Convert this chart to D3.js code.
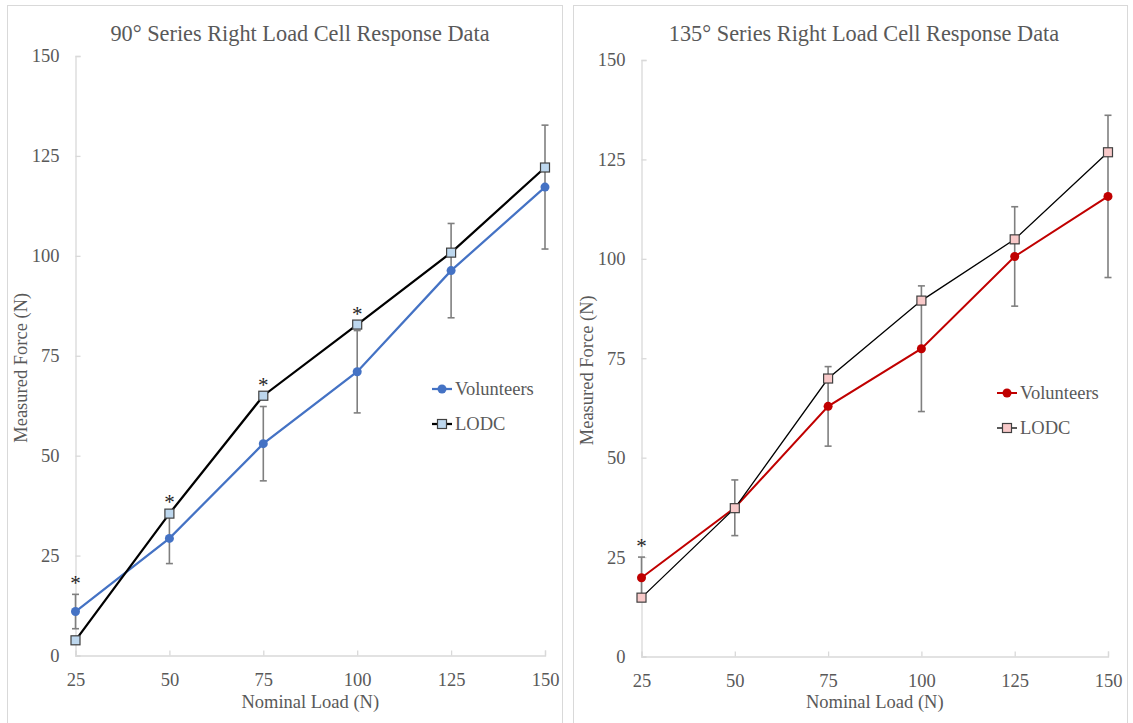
<!DOCTYPE html>
<html>
<head>
<meta charset="utf-8">
<script src="https://cdn.jsdelivr.net/npm/d3@7"></script>
<style>
  body { margin: 0; background: #fff; }
  text { font-family: "Liberation Serif", "Times New Roman", serif; fill: #595959; }
</style>
</head>
<body>
<div id="chart"></div>
<script>
// nominal loads (x categories) and y ticks
var loads = [25, 50, 75, 100, 125, 150];
var yTicks = [0, 25, 50, 75, 100, 125, 150];

// 90 degree series
var vol90 = [11, 29.3, 53, 71, 96.3, 117.2];
var vol90Err = [4.3, 6.3, 9.3, 10.3, 11.8, 15.5];
var lodc90 = [3.8, 35.5, 65, 82.8, 100.8, 122.1];
var sig90 = [25, 50, 75, 100];

// 135 degree series
var vol135 = [19.8, 37.4, 62.9, 77.4, 100.6, 115.7];
var vol135Err = [5.2, 7, 10, 15.8, 12.5, 20.4];
var lodc135 = [14.8, 37.3, 69.9, 89.5, 104.9, 126.8];
var sig135 = [25];

var width = 1133, height = 723;

var svg = d3.select("#chart").append("svg")
  .attr("width", width)
  .attr("height", height);

svg.append("rect").attr("width", width).attr("height", height).attr("fill", "#fff");

function drawPanel(p) {
  var g = svg.append("g");

  // panel border
  g.append("rect")
    .attr("x", p.box[0] + 0.5).attr("y", 5.5)
    .attr("width", p.box[1] - p.box[0]).attr("height", 740)
    .attr("fill", "none").attr("stroke", "#d9d9d9");

  var x = d3.scaleLinear().domain([25, 150]).range([p.left, p.right]);
  var y = d3.scaleLinear().domain([0, 150]).range([p.bottom, p.top]);

  // axes
  var xAxis = d3.axisBottom(x).tickValues(loads).tickSize(-5).tickPadding(17).tickFormat(d3.format("d"));
  var yAxis = d3.axisLeft(y).tickValues(yTicks).tickSize(-5).tickPadding(16).tickFormat(d3.format("d"));

  var gx = g.append("g").attr("transform", "translate(0," + p.bottom + ")").call(xAxis);
  var gy = g.append("g").attr("transform", "translate(" + p.left + ",0)").call(yAxis);
  [gx, gy].forEach(function(a) {
    a.select(".domain").attr("stroke", "#d9d9d9").attr("stroke-width", 1.3);
    a.selectAll(".tick line").attr("stroke", "#d9d9d9").attr("stroke-width", 1.3);
    a.selectAll(".tick text").attr("fill", "#595959")
      .style("font-family", "Liberation Serif").style("font-size", "18.5px");
  });

  // titles
  g.append("text")
    .attr("x", p.titleX).attr("y", 41)
    .attr("text-anchor", "middle")
    .style("font-size", "22.3px")
    .text(p.title);

  g.append("text")
    .attr("x", (p.left + p.right) / 2).attr("y", 708)
    .attr("text-anchor", "middle")
    .style("font-size", "18.5px")
    .text("Nominal Load (N)");

  g.append("text")
    .attr("transform", "translate(" + p.yTitleX + "," + ((p.top + p.bottom) / 2 + 12) + ") rotate(-90)")
    .attr("text-anchor", "middle")
    .attr("dy", "0.35em")
    .style("font-size", "18.5px")
    .text(p.yTitle);

  // error bars (volunteers only)
  var eb = g.append("g").attr("stroke", "#7f7f7f").attr("stroke-width", 1.6);
  loads.forEach(function(l, i) {
    var hi = y(p.vol[i] + p.err[i]), lo = y(p.vol[i] - p.err[i]), cx = x(l);
    eb.append("line").attr("x1", cx).attr("x2", cx).attr("y1", hi).attr("y2", lo);
    eb.append("line").attr("x1", cx - 3.5).attr("x2", cx + 3.5).attr("y1", hi).attr("y2", hi);
    eb.append("line").attr("x1", cx - 3.5).attr("x2", cx + 3.5).attr("y1", lo).attr("y2", lo);
  });

  var line = d3.line()
    .x(function(d, i) { return x(loads[i]); })
    .y(function(d) { return y(d); });

  g.append("path").datum(p.vol)
    .attr("d", line).attr("fill", "none")
    .attr("stroke", p.color).attr("stroke-width", p.volWidth);

  g.append("path").datum(p.lodc)
    .attr("d", line).attr("fill", "none")
    .attr("stroke", "#000").attr("stroke-width", p.lodcWidth);

  g.selectAll(".vol-pt").data(p.vol).enter().append("circle")
    .attr("cx", function(d, i) { return x(loads[i]); })
    .attr("cy", function(d) { return y(d); })
    .attr("r", 4.5)
    .attr("fill", p.color);

  g.selectAll(".lodc-pt").data(p.lodc).enter().append("rect")
    .attr("x", function(d, i) { return x(loads[i]) - 4.5; })
    .attr("y", function(d) { return y(d) - 4.5; })
    .attr("width", 9).attr("height", 9)
    .attr("fill", p.fill).attr("stroke", "#404040").attr("stroke-width", 1.2);

  // significance asterisks
  p.sig.forEach(function(l) {
    var i = loads.indexOf(l);
    var top = Math.max(p.lodc[i], p.vol[i] + p.err[i]);
    g.append("text")
      .attr("x", x(l)).attr("y", y(top) - 4)
      .attr("text-anchor", "middle")
      .style("font-size", "21px")
      .style("fill", "#262626")
      .text("*");
  });

  // legend
  var lg = g.append("g").attr("transform", "translate(" + p.legend[0] + "," + p.legend[1] + ")");
  lg.append("line").attr("x1", 0).attr("x2", 20).attr("y1", 0).attr("y2", 0)
    .attr("stroke", p.color).attr("stroke-width", p.volWidth);
  lg.append("circle").attr("cx", 10).attr("cy", 0).attr("r", 4.5).attr("fill", p.color);
  lg.append("text").attr("x", 23).attr("y", 0).attr("dy", "0.35em")
    .style("font-size", "18.5px").text("Volunteers");

  lg.append("line").attr("x1", 0).attr("x2", 20).attr("y1", 35).attr("y2", 35)
    .attr("stroke", "#000").attr("stroke-width", p.lodcWidth);
  lg.append("rect").attr("x", 5.5).attr("y", 30.5).attr("width", 9).attr("height", 9)
    .attr("fill", p.fill).attr("stroke", "#404040").attr("stroke-width", 1.2);
  lg.append("text").attr("x", 23).attr("y", 35).attr("dy", "0.35em")
    .style("font-size", "18.5px").text("LODC");
}

drawPanel({
  box: [7, 562],
  left: 75.5, right: 545, top: 56, bottom: 655.5,
  title: "90° Series Right Load Cell Response Data",
  titleX: 300,
  yTitle: "Measured Force (N)",
  yTitleX: 21,
  vol: vol90, err: vol90Err, lodc: lodc90, sig: sig90,
  color: "#4472C4", fill: "#BDD7EE",
  volWidth: 2.25, lodcWidth: 2.25,
  legend: [432, 389]
});

drawPanel({
  box: [573, 1127],
  left: 641.5, right: 1108, top: 60, bottom: 656.5,
  title: "135° Series Right Load Cell Response Data",
  titleX: 864,
  yTitle: "Measured  Force (N)",
  yTitleX: 587,
  vol: vol135, err: vol135Err, lodc: lodc135, sig: sig135,
  color: "#C00000", fill: "#F8C9C9",
  volWidth: 2, lodcWidth: 1.3,
  legend: [997, 393]
});
</script>
</body>
</html>
